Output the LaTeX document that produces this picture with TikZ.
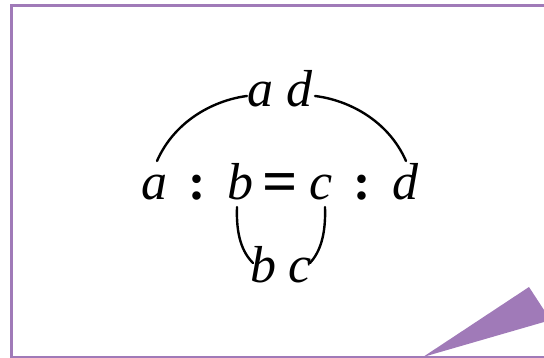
\documentclass[tikz,border=0pt]{standalone}
\usepackage{fontspec}
\setmainfont{Liberation Serif}
\definecolor{frame}{RGB}{160,122,184}
\begin{document}
\begin{tikzpicture}[x=1pt,y=-1pt,
  sym/.style={anchor=base,inner sep=0pt,font=\fontsize{52}{52}\selectfont\itshape},
  op/.style={anchor=base,inner sep=0pt,font=\fontsize{52}{52}\selectfont\bfseries},
  bigop/.style={anchor=base,inner sep=0pt,font=\fontsize{62}{62}\selectfont\bfseries},
  link/.style={line width=2.4pt,line cap=round}]
\useasboundingbox (0,0) rectangle (544,358);
\clip (0,0) rectangle (544,358);
\draw[frame,line width=3pt] (11,6) rectangle (600,357);
\fill[frame] (423,357) -- (529,287) -- (544,310) -- (544,322) -- cycle;
% main row
\node[sym] (a) at (154,200) {a};
\node[op] (c1) at (197,200) {:};
\node[sym] (b) at (240,200) {b};
\node[bigop] (eq) at (280,203) {=};
\node[sym] (c) at (321,200) {c};
\node[op] (c2) at (362,200) {:};
\node[sym] (d) at (405,200) {d};
% top
\node[sym] (ad) at (280,107) {a\hspace{14pt}d};
% bottom
\node[sym] (bc) at (281,283) {b\hspace{12pt}c};
\coordinate (t1) at (157,161);
\coordinate (t2) at (247,96);
\coordinate (t3) at (315,96);
\coordinate (t4) at (406,161);
\coordinate (b1) at (237,207);
\coordinate (b2) at (253,263);
\coordinate (b3) at (325,207);
\coordinate (b4) at (310,263);
\draw[link] (t1) .. controls (175,120) and (215,100) .. (t2);
\draw[link] (t3) .. controls (348,100) and (388,120) .. (t4);
\draw[link] (b1) .. controls (236,235) and (242,252) .. (b2);
\draw[link] (b3) .. controls (326,235) and (320,252) .. (b4);
\end{tikzpicture}
\end{document}
